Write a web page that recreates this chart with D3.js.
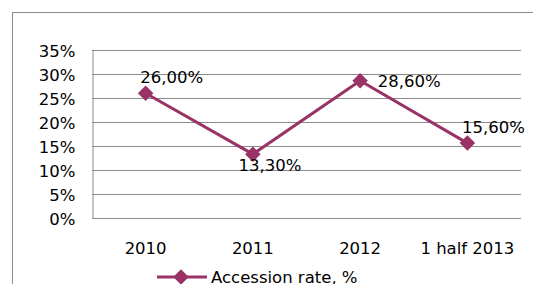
<!DOCTYPE html>
<html lang="en">
<head>
<meta charset="utf-8">
<script src="https://d3js.org/d3.v7.min.js"></script>
<style>
  body { margin: 0; background: #fff; }
  text { font-family: "DejaVu Sans", sans-serif; font-size: 16.5px; fill: #000; }
</style>
</head>
<body>
<svg width="533" height="284"></svg>
<script>
// chart data
var categories = ["2010", "2011", "2012", "1 half 2013"]
var accessionRate = [26.0, 13.3, 28.6, 15.6]
var valueLabels = ["26,00%", "13,30%", "28,60%", "15,60%"]
var yTicks = [0, 5, 10, 15, 20, 25, 30, 35]
var seriesName = "Accession rate, %"

// where each value label sits relative to its point
var labelPlace = ["above", "below", "right", "above"]

var color = "#993366"
var svg = d3.select("svg")

// outer chart frame (runs off the right and bottom edges)
svg.append("rect")
  .attr("x", 12.5).attr("y", 12.5)
  .attr("width", 540).attr("height", 300)
  .attr("fill", "none").attr("stroke", "#8c8c8c")

var plotLeft = 92, plotRight = 521, plotTop = 50, plotBottom = 218

var x = d3.scaleBand().domain(categories).range([plotLeft, plotRight])
var y = d3.scaleLinear().domain([0, 35]).range([plotBottom, plotTop])

// gridlines
svg.append("g").selectAll("line")
  .data(yTicks)
  .enter().append("line")
  .attr("x1", plotLeft).attr("x2", plotRight)
  .attr("y1", function(d){ return Math.round(y(d)) + 0.5 })
  .attr("y2", function(d){ return Math.round(y(d)) + 0.5 })
  .attr("stroke", "#8c8c8c")

// y axis
var yAxis = svg.append("g")
  .attr("transform", "translate(" + (plotLeft + 0.5) + ",0)")
  .call(d3.axisLeft(y).tickValues(yTicks).tickSize(0).tickPadding(17).tickFormat(function(d){ return d + "%" }))
yAxis.select(".domain").attr("stroke", "#8c8c8c")
yAxis.selectAll("text").style("font-size", "16.5px").style("font-family", "DejaVu Sans").attr("dy", "0.4em")

// x axis labels
var xAxis = svg.append("g")
  .attr("transform", "translate(0," + plotBottom + ")")
  .call(d3.axisBottom(x).tickSize(0).tickPadding(24))
xAxis.select(".domain").remove()
xAxis.selectAll("text").style("font-size", "16.5px").style("font-family", "DejaVu Sans")

var cx = function(i){ return x(categories[i]) + x.bandwidth() / 2 }

// series line
svg.append("path")
  .datum(accessionRate)
  .attr("fill", "none")
  .attr("stroke", color)
  .attr("stroke-width", 3)
  .attr("d", d3.line().x(function(d, i){ return cx(i) }).y(function(d){ return y(d) }))

// markers
var diamond = d3.symbol().type(d3.symbolSquare).size(120)
svg.append("g").selectAll("path")
  .data(accessionRate)
  .enter().append("path")
  .attr("d", diamond)
  .attr("fill", color)
  .attr("transform", function(d, i){ return "translate(" + cx(i) + "," + y(d) + ") rotate(45)" })

// value labels
var offsets = { above: [26, -16], below: [17, 11], right: [49, 1] }
svg.append("g").selectAll("text")
  .data(accessionRate)
  .enter().append("text")
  .attr("x", function(d, i){ return cx(i) + offsets[labelPlace[i]][0] })
  .attr("y", function(d, i){ return y(d) + offsets[labelPlace[i]][1] })
  .attr("dy", "0.35em")
  .attr("text-anchor", "middle")
  .text(function(d, i){ return valueLabels[i] })

// legend
var legend = svg.append("g").attr("transform", "translate(157,277)")
legend.append("line").attr("x1", 0).attr("x2", 50).attr("stroke", color).attr("stroke-width", 3)
legend.append("path").attr("d", diamond).attr("fill", color).attr("transform", "translate(24,0) rotate(45)")
legend.append("text").attr("x", 54).attr("dy", "0.35em").text(seriesName)
</script>
</body>
</html>
